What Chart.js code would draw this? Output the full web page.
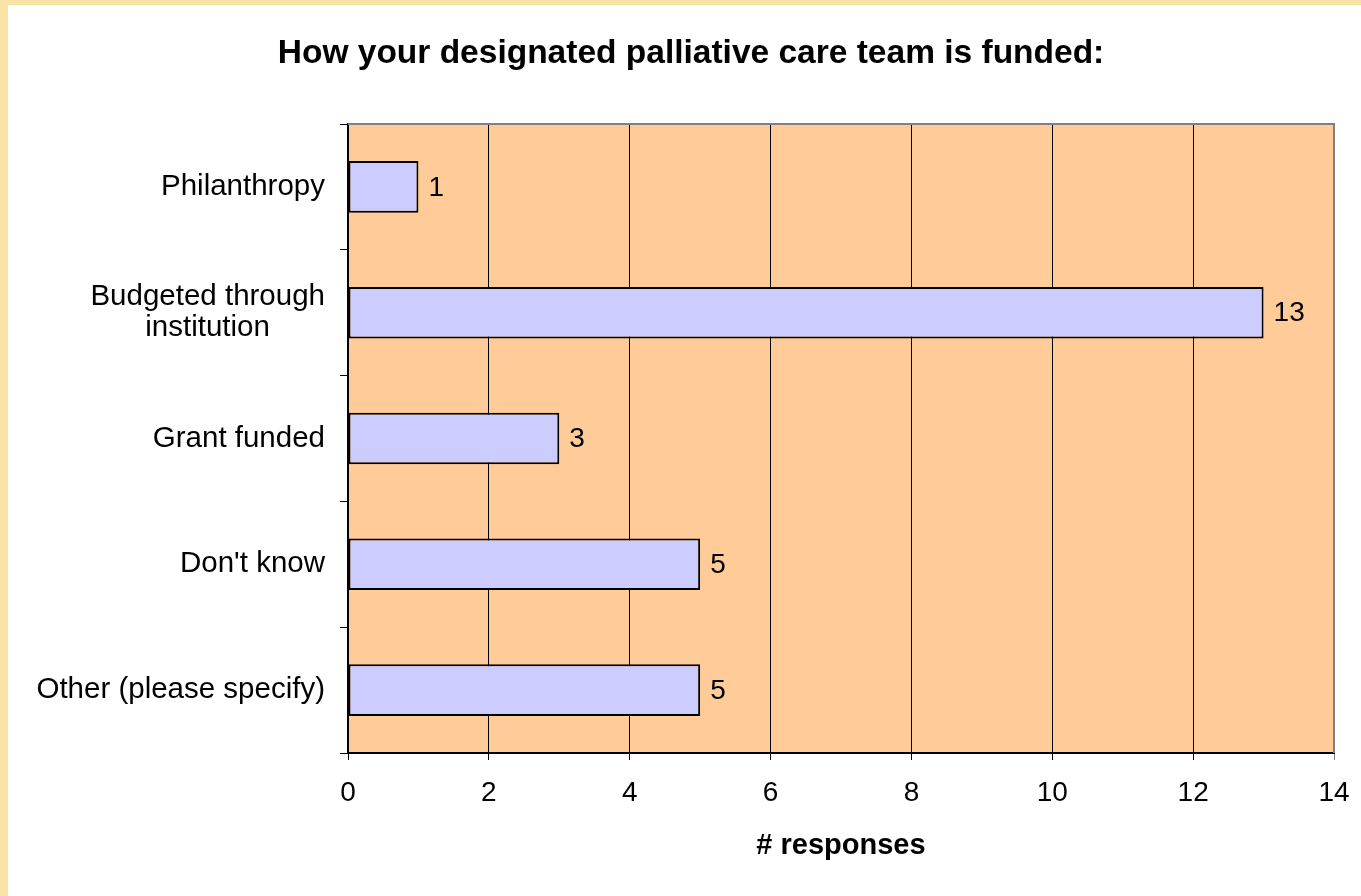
<!DOCTYPE html>
<html>
<head>
<meta charset="utf-8">
<script src="https://cdn.jsdelivr.net/npm/chart.js@4/dist/chart.umd.min.js"></script>
<style>
  html, body { margin: 0; padding: 0; background: #F8E4A6; width: 1361px; height: 896px; overflow: hidden; }
  #wrap { position: absolute; left: 8px; top: 5px; width: 1353px; height: 891px; background: #ffffff; }
  canvas { display: block; }
</style>
</head>
<body>
<div id="wrap"><canvas id="c" width="1353" height="891"></canvas></div>
<script>
const titleText = 'How your designated palliative care team is funded:';
const axisTitle = '# responses';
const categories = ['Philanthropy', ['Budgeted through', 'institution      \u2009'], 'Grant funded', "Don't know", 'Other (please specify)'];
const responses = [1, 13, 3, 5, 5];
const xMin = 0, xMax = 14, xStep = 2;

const FONT = "'Liberation Sans', Arial, sans-serif";

const plotBg = {
  id: 'plotBg',
  beforeDraw(chart) {
    const {ctx, chartArea: a} = chart;
    ctx.save();
    ctx.fillStyle = '#FFCC99';
    ctx.fillRect(a.left, a.top, a.right - a.left, a.bottom - a.top);
    ctx.restore();
  },
  afterDraw(chart) {
    const {ctx, chartArea: a} = chart;
    ctx.save();
    ctx.strokeStyle = '#808080';
    ctx.lineWidth = 2;
    ctx.beginPath();
    ctx.moveTo(a.left, a.top);
    ctx.lineTo(a.right, a.top);
    ctx.lineTo(a.right, a.bottom);
    ctx.stroke();
    // chart title, centred as in the reference
    ctx.fillStyle = '#000';
    ctx.font = 'bold 33.5px ' + FONT;
    ctx.textAlign = 'center';
    ctx.textBaseline = 'middle';
    ctx.fillText(titleText, 683, 49);
    ctx.restore();
  }
};

const valueLabels = {
  id: 'valueLabels',
  afterDatasetsDraw(chart) {
    const {ctx} = chart;
    const meta = chart.getDatasetMeta(0);
    ctx.save();
    ctx.fillStyle = '#000';
    ctx.font = '28px ' + FONT;
    ctx.textAlign = 'left';
    ctx.textBaseline = 'middle';
    meta.data.forEach((bar, i) => {
      ctx.fillText(String(chart.data.datasets[0].data[i]), bar.x + 10, bar.y + 1);
    });
    ctx.restore();
  }
};

new Chart(document.getElementById('c'), {
  type: 'bar',
  data: {
    labels: categories,
    datasets: [{
      data: responses,
      backgroundColor: '#CCCCFF',
      borderColor: '#000000',
      borderWidth: 2,
      borderSkipped: false,
      categoryPercentage: 1.0,
      barPercentage: 0.41
    }]
  },
  options: {
    indexAxis: 'y',
    responsive: false,
    animation: false,
    layout: { padding: { left: 0, right: 27, top: 119, bottom: 0 } },
    plugins: {
      legend: { display: false },
      tooltip: { enabled: false },
      title: { display: false }
    },
    scales: {
      x: {
        type: 'linear',
        min: xMin,
        max: xMax,
        ticks: {
          stepSize: xStep,
          color: '#000',
          font: { family: FONT, size: 28 },
          padding: 16,
          maxRotation: 0
        },
        grid: {
          color: (c) => (c.tick && c.tick.value === xMax) ? '#808080' : '#000000',
          lineWidth: 1,
          tickLength: 7,
          drawTicks: true
        },
        border: { display: true, color: '#000', width: 2 },
        title: {
          display: true,
          text: axisTitle,
          color: '#000',
          font: { family: FONT, size: 29, weight: 'bold', lineHeight: 1.2 },
          padding: { top: 0, bottom: 33 }
        },
        afterFit(scale) {
          scale.height = 143;
          scale.paddingLeft = 0; scale.paddingRight = 0;
          scale.paddingTop = 0; scale.paddingBottom = 0;
        }
      },
      y: {
        type: 'category',
        offset: true,
        ticks: {
          color: '#000',
          font: { family: FONT, size: 29.5, lineHeight: 1.05 },
          padding: 15
        },
        grid: {
          offset: true,
          drawOnChartArea: false,
          drawTicks: true,
          tickLength: 8,
          color: '#000',
          lineWidth: 1
        },
        border: { display: true, color: '#000', width: 2 },
        afterFit(scale) {
          scale.width = 340;
          scale.paddingLeft = 0; scale.paddingRight = 0;
          scale.paddingTop = 0; scale.paddingBottom = 0;
        }
      }
    }
  },
  plugins: [plotBg, valueLabels]
});
</script>
</body>
</html>
